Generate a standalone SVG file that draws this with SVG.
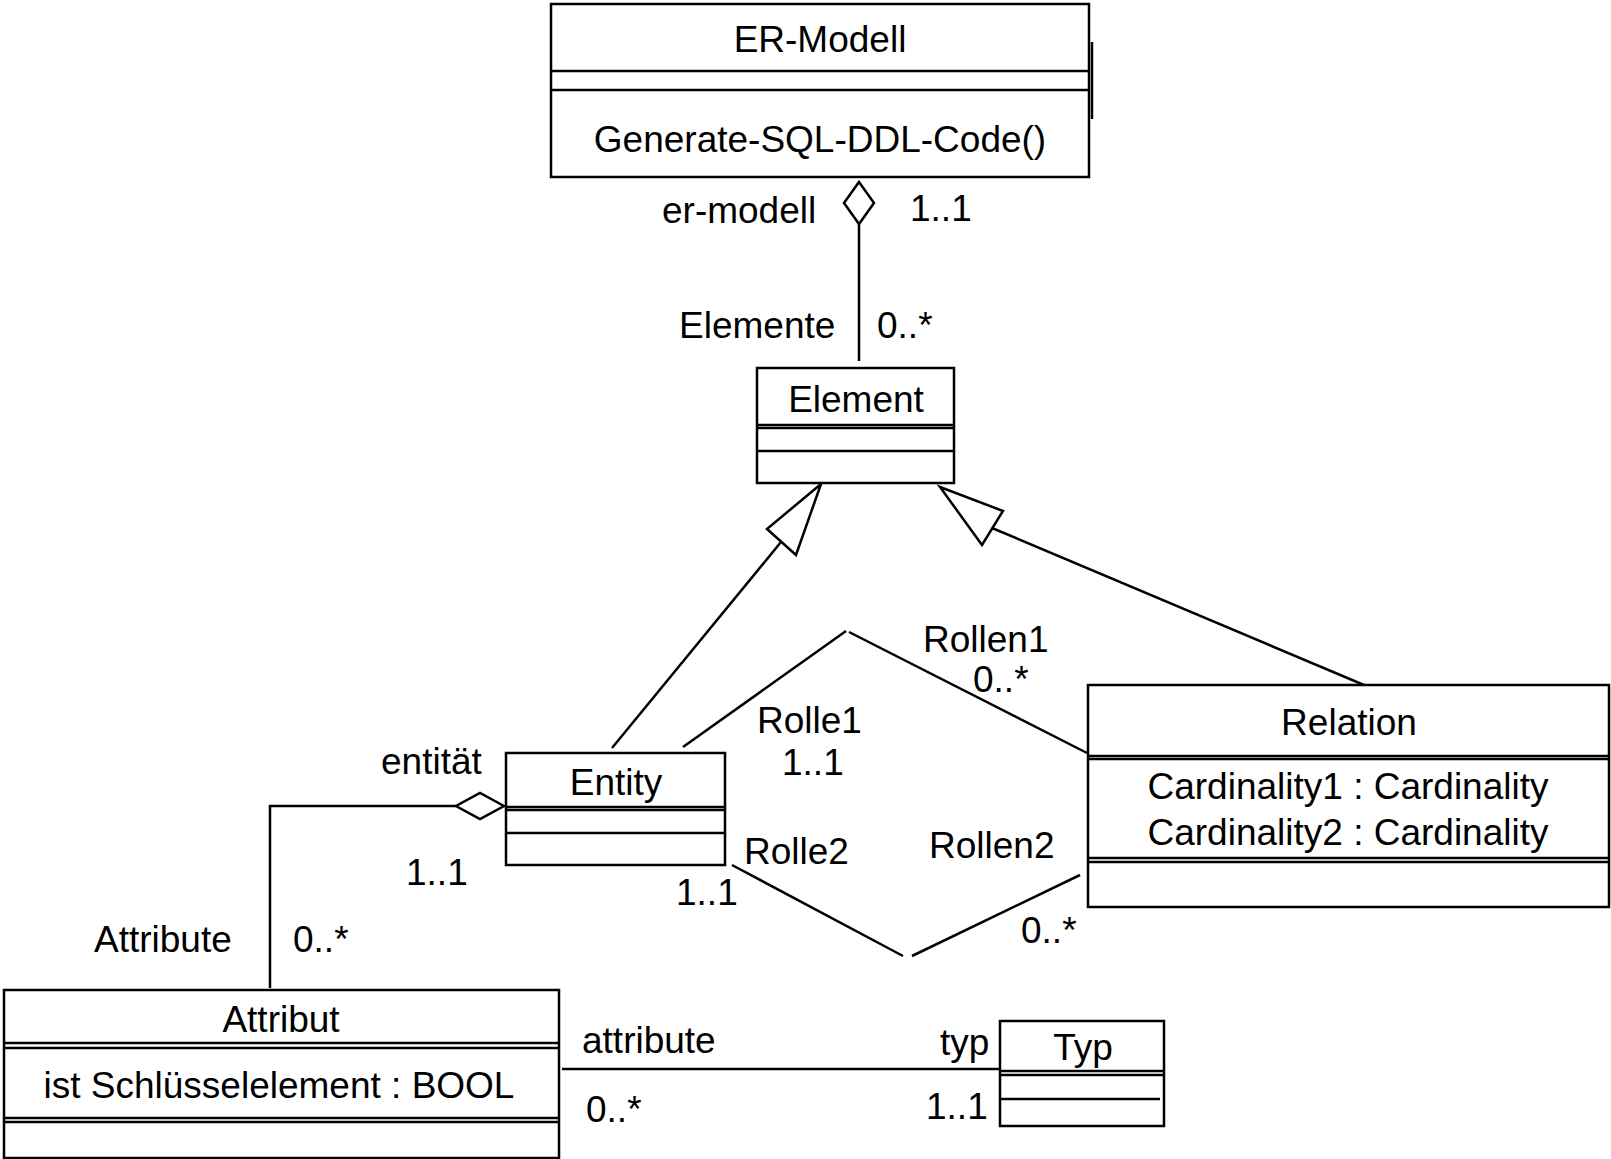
<svg xmlns="http://www.w3.org/2000/svg" width="1611" height="1159" viewBox="0 0 1611 1159">
<style>
  .box { fill: #ffffff; stroke: #000000; stroke-width: 2.5; }
  .ln { fill: none; stroke: #000000; stroke-width: 2.5; }
  .head { fill: #ffffff; stroke: #000000; stroke-width: 2.5; stroke-linejoin: miter; }
  text { font-family: "Liberation Sans", Arial, sans-serif; font-size: 37px; fill: #000000; }
  .c { text-anchor: middle; }
</style>
<rect x="0" y="0" width="1611" height="1159" fill="#ffffff"/>

<g id="connectors">
  <!-- ER-Modell aggregation to Element -->
  <line class="ln" x1="859" y1="224" x2="859" y2="361"/>
  <polygon class="head" points="859,182 874,203 859,224 844,203"/>
  <!-- Entity aggregation to Attribut -->
  <polyline class="ln" points="456,806 270,806 270,988"/>
  <polygon class="head" points="504,806 480,793 456,806 480,819"/>
  <!-- generalization Entity -> Element -->
  <line class="ln" x1="781" y1="542" x2="612" y2="748"/>
  <polygon class="head" points="821,484 767,529 796,555"/>
  <!-- generalization Relation -> Element -->
  <line class="ln" x1="992" y1="528" x2="1364" y2="685"/>
  <polygon class="head" points="940,487 1003,511 982,545"/>
  <!-- Rolle1 / Rollen1 -->
  <polyline class="ln" points="683,747 846,631"/>
  <polyline class="ln" points="849,632 1087,753"/>
  <!-- Rolle2 / Rollen2 -->
  <polyline class="ln" points="732,865 903,956"/>
  <polyline class="ln" points="912,956 1080,875"/>
  <!-- Attribut - Typ -->
  <line class="ln" x1="562" y1="1069" x2="999" y2="1069"/>

  <text x="662" y="223">er-modell</text>
  <text x="910" y="221">1..1</text>
  <text x="679" y="338">Elemente</text>
  <text x="877" y="338">0..*</text>
  <text x="923" y="652">Rollen1</text>
  <text x="973" y="692">0..*</text>
  <text x="757" y="733">Rolle1</text>
  <text x="782" y="775">1..1</text>
  <text x="381" y="774">entität</text>
  <text x="406" y="885">1..1</text>
  <text x="744" y="864">Rolle2</text>
  <text x="676" y="905">1..1</text>
  <text x="929" y="858">Rollen2</text>
  <text x="1021" y="943">0..*</text>
  <text x="94" y="952">Attribute</text>
  <text x="293" y="952">0..*</text>
  <text x="582" y="1053">attribute</text>
  <text x="940" y="1055">typ</text>
  <text x="586" y="1122">0..*</text>
  <text x="926" y="1119">1..1</text>
</g>

<g id="node-er-modell">
  <rect class="box" x="551" y="4" width="538" height="173"/>
  <line class="ln" x1="551" y1="71" x2="1089" y2="71"/>
  <line class="ln" x1="551" y1="90" x2="1089" y2="90"/>
  <line class="ln" x1="1092" y1="42" x2="1092" y2="119" stroke-width="3"/>
  <text class="c" x="820" y="52">ER-Modell</text>
  <text class="c" x="820" y="152">Generate-SQL-DDL-Code()</text>
</g>

<g id="node-element">
  <rect class="box" x="757" y="368" width="197" height="115"/>
  <line class="ln" x1="757" y1="425" x2="954" y2="425"/>
  <line class="ln" x1="757" y1="428" x2="954" y2="428"/>
  <line class="ln" x1="757" y1="451" x2="954" y2="451"/>
  <text class="c" x="856" y="412">Element</text>
</g>

<g id="node-entity">
  <rect class="box" x="506" y="753" width="219" height="112"/>
  <line class="ln" x1="506" y1="807" x2="725" y2="807"/>
  <line class="ln" x1="506" y1="810" x2="725" y2="810"/>
  <line class="ln" x1="506" y1="833" x2="725" y2="833"/>
  <text class="c" x="616" y="795">Entity</text>
</g>

<g id="node-relation">
  <rect class="box" x="1088" y="685" width="521" height="222"/>
  <line class="ln" x1="1088" y1="756" x2="1609" y2="756"/>
  <line class="ln" x1="1088" y1="759" x2="1609" y2="759"/>
  <line class="ln" x1="1088" y1="858" x2="1609" y2="858"/>
  <line class="ln" x1="1088" y1="862" x2="1609" y2="862"/>
  <text class="c" x="1349" y="735">Relation</text>
  <text class="c" x="1348" y="799">Cardinality1 : Cardinality</text>
  <text class="c" x="1348" y="845">Cardinality2 : Cardinality</text>
</g>

<g id="node-attribut">
  <rect class="box" x="4" y="990" width="555" height="168"/>
  <line class="ln" x1="4" y1="1043" x2="559" y2="1043"/>
  <line class="ln" x1="4" y1="1048" x2="559" y2="1048"/>
  <line class="ln" x1="4" y1="1118" x2="559" y2="1118"/>
  <line class="ln" x1="4" y1="1122" x2="559" y2="1122"/>
  <text class="c" x="281" y="1032">Attribut</text>
  <text class="c" x="279" y="1098">ist Schlüsselelement : BOOL</text>
</g>

<g id="node-typ">
  <rect class="box" x="1000" y="1021" width="164" height="105"/>
  <line class="ln" x1="1000" y1="1071" x2="1164" y2="1071"/>
  <line class="ln" x1="1000" y1="1075" x2="1164" y2="1075"/>
  <line class="ln" x1="1000" y1="1099" x2="1160" y2="1099"/>
  <text class="c" x="1083" y="1060">Typ</text>
</g>
</svg>
